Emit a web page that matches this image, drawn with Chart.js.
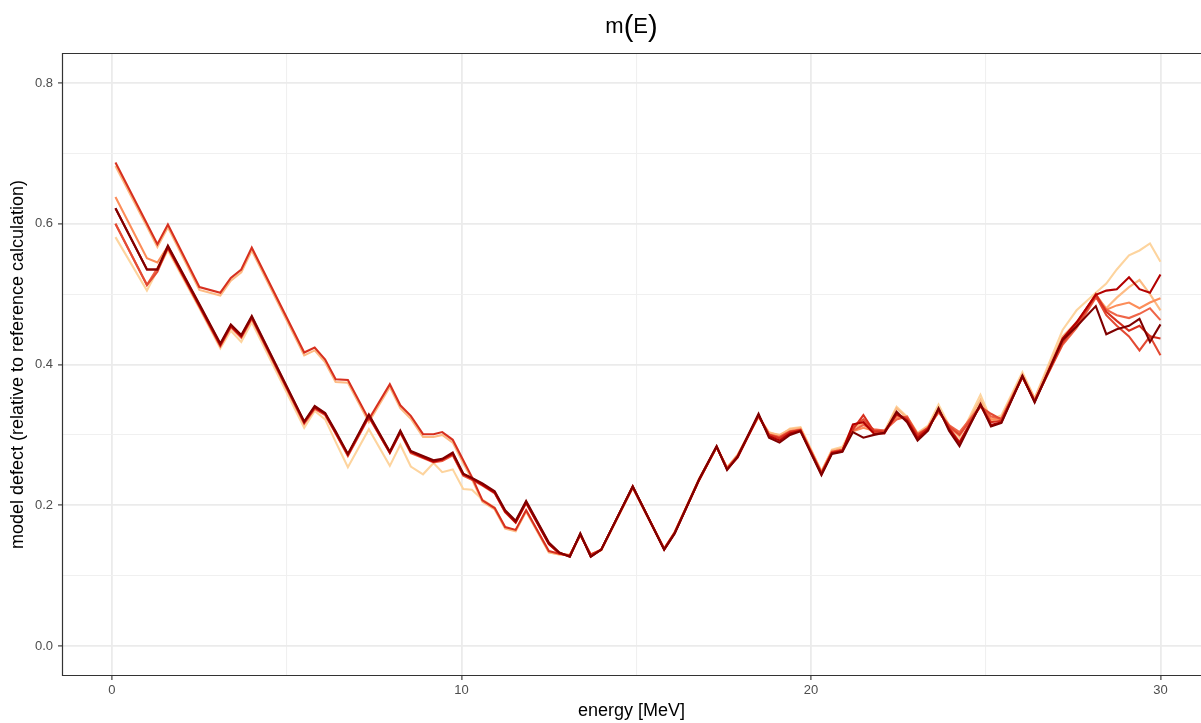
<!DOCTYPE html>
<html>
<head>
<meta charset="utf-8">
<script src="https://cdn.jsdelivr.net/npm/chart.js@4.4.1/dist/chart.umd.min.js"></script>
<style>
  html, body { margin: 0; padding: 0; background: #fff; overflow: hidden; }
  #wrap { position: relative; width: 1201px; height: 723px; }
</style>
</head>
<body>
<div id="wrap"><canvas id="defectChart"></canvas></div>
<script>
// energy grid [MeV]
const energy = [
  0.1, 1.0, 1.3, 1.6, 2.5, 3.1, 3.4, 3.7, 4.0, 5.5,
  5.8, 6.1, 6.4, 6.75, 7.35, 7.95, 8.25, 8.55, 8.9, 9.2,
  9.45, 9.75, 10.05, 10.3, 10.6, 10.95, 11.25, 11.55, 11.85, 12.5,
  12.8, 13.1, 13.4, 13.7, 14.0, 14.9, 15.8, 16.1, 16.8, 17.3,
  17.6, 17.9, 18.5, 18.8, 19.1, 19.4, 19.7, 20.3, 20.6, 20.9,
  21.2, 21.5, 21.8, 22.1, 22.45, 22.75, 23.05, 23.35, 23.65, 23.95,
  24.25, 24.85, 25.15, 25.45, 26.05, 26.4, 27.2, 27.6, 28.15, 28.45,
  28.75, 29.1, 29.4, 29.7, 30.0
];

// model defect per variant, light -> dark
const series1 = [
  0.581, 0.505, 0.534, 0.562, 0.480, 0.423, 0.448, 0.432, 0.460, 0.310,
  0.334, 0.322, 0.290, 0.254, 0.308, 0.256, 0.286, 0.255, 0.244, 0.260,
  0.247, 0.251, 0.223, 0.222, 0.208, 0.197, 0.168, 0.164, 0.192, 0.133,
  0.130, 0.130, 0.157, 0.130, 0.136, 0.225, 0.138, 0.162, 0.238, 0.282,
  0.254, 0.272, 0.325, 0.304, 0.298, 0.309, 0.311, 0.248, 0.279, 0.283,
  0.312, 0.318, 0.304, 0.305, 0.340, 0.326, 0.303, 0.313, 0.343, 0.314,
  0.296, 0.357, 0.322, 0.328, 0.389, 0.352, 0.449, 0.477, 0.502, 0.515,
  0.535, 0.555, 0.562, 0.572, 0.546
];
const series2 = [
  0.682, 0.596, 0.567, 0.595, 0.506, 0.498, 0.519, 0.531, 0.562, 0.413,
  0.420, 0.403, 0.375, 0.374, 0.318, 0.368, 0.338, 0.323, 0.297, 0.297,
  0.300, 0.289, 0.260, 0.237, 0.205, 0.194, 0.167, 0.163, 0.191, 0.133,
  0.130, 0.129, 0.157, 0.130, 0.137, 0.225, 0.138, 0.162, 0.236, 0.282,
  0.253, 0.271, 0.326, 0.303, 0.300, 0.308, 0.310, 0.248, 0.278, 0.281,
  0.310, 0.316, 0.302, 0.304, 0.338, 0.324, 0.302, 0.312, 0.337, 0.313,
  0.298, 0.350, 0.320, 0.325, 0.386, 0.352, 0.440, 0.460, 0.498, 0.480,
  0.495, 0.510, 0.520, 0.500, 0.477
];
const series3 = [
  0.638, 0.551, 0.545, 0.568, 0.485, 0.429, 0.456, 0.441, 0.468, 0.318,
  0.340, 0.330, 0.304, 0.272, 0.328, 0.276, 0.305, 0.276, 0.269, 0.263,
  0.265, 0.273, 0.244, 0.238, 0.230, 0.219, 0.192, 0.177, 0.205, 0.146,
  0.132, 0.128, 0.159, 0.128, 0.137, 0.226, 0.138, 0.161, 0.237, 0.283,
  0.252, 0.270, 0.327, 0.301, 0.297, 0.305, 0.308, 0.247, 0.276, 0.279,
  0.305, 0.310, 0.306, 0.306, 0.325, 0.325, 0.300, 0.310, 0.333, 0.313,
  0.302, 0.342, 0.322, 0.322, 0.384, 0.349, 0.430, 0.455, 0.500, 0.478,
  0.484, 0.488, 0.480, 0.488, 0.494
];
const series4 = [
  0.600, 0.513, 0.537, 0.565, 0.482, 0.426, 0.453, 0.438, 0.465, 0.316,
  0.337, 0.328, 0.302, 0.270, 0.325, 0.274, 0.303, 0.274, 0.267, 0.261,
  0.263, 0.271, 0.242, 0.236, 0.228, 0.217, 0.190, 0.175, 0.203, 0.145,
  0.131, 0.128, 0.159, 0.128, 0.137, 0.226, 0.138, 0.161, 0.237, 0.283,
  0.253, 0.270, 0.327, 0.300, 0.297, 0.305, 0.307, 0.246, 0.276, 0.279,
  0.306, 0.314, 0.308, 0.306, 0.322, 0.326, 0.301, 0.310, 0.332, 0.314,
  0.304, 0.341, 0.326, 0.323, 0.383, 0.349, 0.428, 0.452, 0.495, 0.478,
  0.470, 0.466, 0.472, 0.480, 0.463
];
const series5 = [
  0.600, 0.513, 0.532, 0.566, 0.483, 0.427, 0.454, 0.439, 0.466, 0.317,
  0.338, 0.329, 0.303, 0.271, 0.326, 0.275, 0.304, 0.275, 0.268, 0.262,
  0.264, 0.272, 0.243, 0.237, 0.229, 0.218, 0.191, 0.176, 0.204, 0.146,
  0.132, 0.128, 0.159, 0.128, 0.137, 0.226, 0.138, 0.161, 0.236, 0.283,
  0.252, 0.270, 0.328, 0.300, 0.296, 0.304, 0.306, 0.246, 0.275, 0.278,
  0.312, 0.322, 0.306, 0.305, 0.328, 0.324, 0.300, 0.309, 0.334, 0.312,
  0.300, 0.340, 0.330, 0.322, 0.382, 0.348, 0.430, 0.455, 0.497, 0.470,
  0.455, 0.440, 0.420, 0.440, 0.413
];
const series6 = [
  0.687, 0.600, 0.571, 0.599, 0.510, 0.502, 0.523, 0.535, 0.566, 0.417,
  0.424, 0.407, 0.379, 0.378, 0.322, 0.372, 0.342, 0.327, 0.301, 0.301,
  0.304, 0.293, 0.264, 0.240, 0.207, 0.196, 0.169, 0.165, 0.193, 0.135,
  0.131, 0.129, 0.158, 0.130, 0.137, 0.227, 0.138, 0.161, 0.236, 0.283,
  0.252, 0.268, 0.328, 0.300, 0.295, 0.304, 0.307, 0.245, 0.275, 0.278,
  0.308, 0.328, 0.305, 0.304, 0.330, 0.322, 0.298, 0.310, 0.336, 0.310,
  0.290, 0.343, 0.318, 0.320, 0.383, 0.348, 0.432, 0.458, 0.500, 0.475,
  0.462, 0.448, 0.455, 0.440, 0.437
];
const series7 = [
  0.622, 0.535, 0.535, 0.567, 0.484, 0.428, 0.455, 0.440, 0.467, 0.318,
  0.339, 0.330, 0.303, 0.272, 0.327, 0.275, 0.304, 0.276, 0.268, 0.262,
  0.265, 0.273, 0.244, 0.238, 0.229, 0.218, 0.191, 0.176, 0.204, 0.145,
  0.132, 0.127, 0.159, 0.127, 0.137, 0.226, 0.137, 0.160, 0.236, 0.283,
  0.251, 0.268, 0.328, 0.298, 0.292, 0.302, 0.306, 0.244, 0.274, 0.277,
  0.315, 0.318, 0.302, 0.302, 0.330, 0.320, 0.295, 0.308, 0.336, 0.308,
  0.288, 0.342, 0.314, 0.318, 0.383, 0.347, 0.437, 0.460, 0.499, 0.505,
  0.507, 0.524, 0.507, 0.502, 0.528
];
const series8 = [
  0.622, 0.535, 0.535, 0.569, 0.486, 0.430, 0.457, 0.442, 0.469, 0.319,
  0.341, 0.331, 0.305, 0.273, 0.329, 0.276, 0.306, 0.277, 0.270, 0.264,
  0.266, 0.275, 0.245, 0.239, 0.231, 0.220, 0.193, 0.178, 0.206, 0.147,
  0.133, 0.127, 0.160, 0.127, 0.137, 0.227, 0.137, 0.160, 0.237, 0.284,
  0.250, 0.269, 0.330, 0.296, 0.289, 0.300, 0.305, 0.243, 0.273, 0.276,
  0.304, 0.296, 0.300, 0.303, 0.333, 0.318, 0.292, 0.306, 0.338, 0.306,
  0.284, 0.344, 0.312, 0.317, 0.384, 0.346, 0.435, 0.454, 0.483, 0.443,
  0.450, 0.455, 0.465, 0.432, 0.457
];

const allSeries = [series1, series2, series3, series4, series5, series6, series7, series8];
const seriesColors = ['#fdd49e', '#fdbb84', '#fc8d59', '#ef6548', '#e34a33', '#d7301f', '#b30000', '#7f0000'];

// axis breaks and labels
const xBreaks = [0, 10, 20, 30];
const xMinorBreaks = [5, 15, 25];
const yBreaks = [0, 0.2, 0.4, 0.6, 0.8];
const yLabels = ['0.0', '0.2', '0.4', '0.6', '0.8'];
const yMinorBreaks = [0.1, 0.3, 0.5, 0.7];

const near = (a, b) => Math.abs(a - b) < 1e-9;
const isXMajor = v => xBreaks.some(b => near(b, v));
const isYMajor = v => yBreaks.some(b => near(b, v));

const sans = "'Liberation Sans', Arial, sans-serif";

// ggplot-ish panel border (left, top, bottom) and the plot title
const panelDecor = {
  id: 'panelDecor',
  afterDraw(chart) {
    const { ctx, chartArea: a } = chart;
    ctx.save();
    ctx.strokeStyle = '#333333';
    ctx.lineWidth = 1.2;
    ctx.beginPath();
    ctx.moveTo(a.right + 5, a.top + 0.5);
    ctx.lineTo(a.left + 0.5, a.top + 0.5);
    ctx.lineTo(a.left + 0.5, a.bottom - 0.5);
    ctx.lineTo(a.right + 5, a.bottom - 0.5);
    ctx.stroke();

    // title m(E) with taller brackets
    const parts = [
      { t: 'm', size: 22 },
      { t: '(', size: 29 },
      { t: 'E', size: 22 },
      { t: ')', size: 29 }
    ];
    ctx.fillStyle = '#000';
    ctx.textBaseline = 'alphabetic';
    let w = 0;
    parts.forEach(p => { ctx.font = p.size + 'px ' + sans; p.w = ctx.measureText(p.t).width; w += p.w; });
    let x = (a.left + a.right) / 2 - w / 2;
    const base = 33;
    parts.forEach(p => {
      ctx.font = p.size + 'px ' + sans;
      ctx.textAlign = 'left';
      ctx.fillText(p.t, x, p.size > 22 ? base + 3 : base);
      x += p.w;
    });
    ctx.restore();
  }
};

const datasets = allSeries.map((vals, i) => ({
  data: energy.map((e, k) => ({ x: e, y: vals[k] })),
  borderColor: seriesColors[i],
  backgroundColor: seriesColors[i],
  borderWidth: 2.1,
  pointRadius: 0,
  tension: 0,
  fill: false
})).reverse(); // darkest first so it sits on top

new Chart(document.getElementById('defectChart'), {
  type: 'line',
  data: { datasets },
  options: {
    responsive: true,
    maintainAspectRatio: false,
    animation: false,
    layout: { padding: { top: 53, right: 0, left: 0, bottom: 0 } },
    plugins: { legend: { display: false }, tooltip: { enabled: false }, title: { display: false } },
    scales: {
      x: {
        type: 'linear',
        min: -1.43,
        max: 31.16,
        afterBuildTicks: s => { s.ticks = [...xBreaks, ...xMinorBreaks].sort((a, b) => a - b).map(v => ({ value: v })); },
        afterFit: s => { s.height = 47; },
        border: { display: false },
        grid: {
          color: c => isXMajor(c.tick.value) ? '#ebebeb' : '#f0f0f0',
          lineWidth: c => isXMajor(c.tick.value) ? 1.8 : 1.1,
          tickColor: c => isXMajor(c.tick.value) ? '#333333' : 'rgba(0,0,0,0)',
          tickLength: 4,
          tickWidth: 1.1
        },
        ticks: {
          autoSkip: false,
          maxRotation: 0,
          padding: 3,
          color: '#4d4d4d',
          font: { family: sans, size: 13 },
          callback: v => isXMajor(v) ? String(v) : ''
        },
        title: {
          display: true,
          text: 'energy [MeV]',
          color: '#000',
          font: { family: sans, size: 18 },
          padding: { top: 0, bottom: 1 }
        }
      },
      y: {
        type: 'linear',
        min: -0.0426,
        max: 0.8426,
        afterBuildTicks: s => { s.ticks = [...yBreaks, ...yMinorBreaks].sort((a, b) => a - b).map(v => ({ value: v })); },
        afterFit: s => { s.width = 62; },
        border: { display: false },
        grid: {
          color: c => isYMajor(c.tick.value) ? '#ebebeb' : '#f0f0f0',
          lineWidth: c => isYMajor(c.tick.value) ? 1.8 : 1.1,
          tickColor: c => isYMajor(c.tick.value) ? '#333333' : 'rgba(0,0,0,0)',
          tickLength: 4,
          tickWidth: 1.1
        },
        ticks: {
          autoSkip: false,
          padding: 5,
          color: '#4d4d4d',
          font: { family: sans, size: 13 },
          callback: v => {
            const i = yBreaks.findIndex(b => near(b, v));
            return i >= 0 ? yLabels[i] : '';
          }
        },
        title: {
          display: true,
          text: 'model defect (relative to reference calculation)',
          color: '#000',
          font: { family: sans, size: 18 },
          padding: { top: 7, bottom: 0 }
        }
      }
    }
  },
  plugins: [panelDecor]
});
</script>
</body>
</html>
